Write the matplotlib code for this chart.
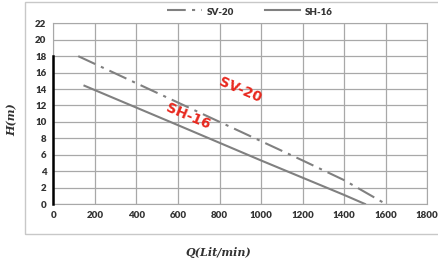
import numpy as np
import matplotlib.pyplot as plt
from matplotlib.patches import Rectangle

# pump curves (flow in Lit/min, head in m)
sv20_q = [120, 400, 800, 1200, 1400, 1600]
sv20_h = [18.0, 14.7, 10.0, 5.3, 2.9, 0.0]
sh16_q = [150, 600, 1000, 1400, 1500]
sh16_h = [14.4, 9.6, 5.3, 1.1, 0.0]
marker_q = [0, 0]
marker_h = [0, 18]

xticks = np.arange(0, 1801, 200)
yticks = np.arange(0, 23, 2)

fig = plt.figure(figsize=(4.38, 2.62), dpi=100)
fig.patches.append(Rectangle((25 / 438, 1 - 234 / 262), 1.2, 232 / 262,
                             transform=fig.transFigure, fill=False,
                             edgecolor='#c8c8c8', linewidth=1.0))
ax = fig.add_axes([53.3 / 438, 58 / 262, 374 / 438, 180.7 / 262])

gray = '#808080'
ax.plot(sv20_q, sv20_h, color=gray, lw=1.5, dashes=(9, 3, 1.5, 3), label='SV-20')
ax.plot(sh16_q, sh16_h, color=gray, lw=1.5, label='SH-16')
ax.plot(marker_q, marker_h, color='black', lw=1.8, clip_on=False, zorder=5)

ax.set_xlim(0, 1800)
ax.set_ylim(0, 22)
ax.set_xticks(xticks)
ax.set_yticks(yticks)
ax.grid(True, color='#a8a8a8', lw=0.9)
ax.tick_params(length=0, pad=5, labelsize=7, labelcolor='#333333')
for lbl in ax.get_xticklabels() + ax.get_yticklabels():
    lbl.set_fontweight('heavy')
    lbl.set_family('Lato')
for s in ax.spines.values():
    s.set_color('#a8a8a8')

ax.text(900, 13.9, 'SV-20', color='#e8281e', fontsize=10, fontweight='bold',
        rotation=-23, ha='center', va='center')
ax.text(650, 10.6, 'SH-16', color='#e8281e', fontsize=10, fontweight='bold',
        rotation=-23, ha='center', va='center')

leg = fig.legend(loc='center', bbox_to_anchor=(250 / 438, 1 - 11 / 262), ncol=2,
                 frameon=False, handlelength=2.5, columnspacing=2.2,
                 handletextpad=0.4)
for t in leg.get_texts():
    t.set_color('#333333')
    t.set_family('Lato')
    t.set_fontweight('heavy')
    t.set_fontsize(7)

fig.text(12 / 438, 1 - 120 / 262, 'H(m)', rotation=90, ha='center', va='center',
         family='DejaVu Serif', style='italic', fontweight='bold', fontsize=8, color='#333333')
fig.text(218 / 438, 1 - 252 / 262, 'Q(Lit/min)', ha='center', va='center',
         family='DejaVu Serif', style='italic', fontweight='bold', fontsize=8, color='#333333')

fig.savefig('out.png', dpi=100)
